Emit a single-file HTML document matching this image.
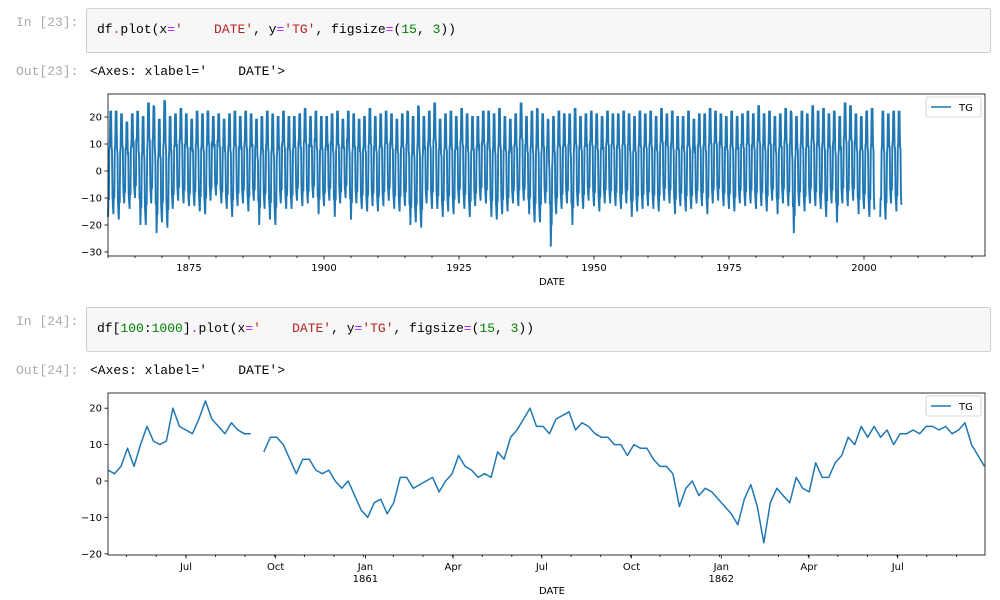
<!DOCTYPE html>
<html><head><meta charset="utf-8">
<style>
body{margin:0;width:1000px;height:600px;background:#fff;overflow:hidden;position:relative;font-family:"Liberation Sans",sans-serif}
.prompt{position:absolute;font-family:"Liberation Mono",monospace;font-size:13px;color:#aaa}
.cell{position:absolute;left:86px;width:903px;height:43px;background:#f7f7f7;border:1px solid #cfcfcf;border-radius:2px}
.code{position:absolute;left:10px;top:13px;font-family:"Liberation Mono",monospace;font-size:13px;color:#000;white-space:pre}
.out{position:absolute;left:90px;font-family:"Liberation Mono",monospace;font-size:13px;white-space:pre;color:#000}
.s{color:#ba2121}.o{color:#aa22ff}.n{color:#008000}
svg{position:absolute;left:0;top:0}
svg text{font-family:"DejaVu Sans",sans-serif;font-size:10px;fill:#000}
</style></head><body>
<div class="prompt" style="left:16px;top:15px">In [23]:</div>
<div class="cell" style="top:8px"><div class="code">df<span class="o">.</span>plot(x<span class="o">=</span><span class="s">'    DATE'</span>, y<span class="o">=</span><span class="s">'TG'</span>, figsize<span class="o">=</span>(<span class="n">15</span>, <span class="n">3</span>))</div></div>
<div class="prompt" style="left:16px;top:64px">Out[23]:</div>
<div class="out" style="top:64px">&lt;Axes: xlabel='    DATE'&gt;</div>

<div class="prompt" style="left:16px;top:314px">In [24]:</div>
<div class="cell" style="top:307px"><div class="code">df[<span class="n">100</span>:<span class="n">1000</span>]<span class="o">.</span>plot(x<span class="o">=</span><span class="s">'    DATE'</span>, y<span class="o">=</span><span class="s">'TG'</span>, figsize<span class="o">=</span>(<span class="n">15</span>, <span class="n">3</span>))</div></div>
<div class="prompt" style="left:16px;top:363px">Out[24]:</div>
<div class="out" style="top:363px">&lt;Axes: xlabel='    DATE'&gt;</div>

<svg id="chart" width="1000" height="600"></svg>
<script>
// ---- chart 1 data (yearly summer peaks / winter troughs, 1860-2006) ----
const years1Start = 1860;
const peaks = [22,22,21,18,21,22,20,25,24,19,26,20,21,23,21,19,22,21,22,20,21,19,21,22,20,22,21,19,20,22,21,20,22,20,20,21,23,20,22,20,20,21,22,19,22,21,19,20,23,20,21,22,21,19,21,22,20,24,20,22,25,19,21,22,20,23,21,20,20,22,22,21,23,20,19,21,25,20,22,23,21,19,20,22,21,21,23,20,21,22,21,20,22,21,21,22,21,20,22,21,22,20,23,21,22,20,20,22,19,21,21,23,22,21,20,22,20,21,22,21,24,21,22,20,21,23,22,20,22,21,24,22,23,21,22,20,25,24,21,20,22,23,null,22,21,22,22];
const troughs = [-17,-16,-18,-12,-14,-10,-20,-20,-12,-23,-19,-21,-14,-11,-12,-13,-13,-15,-16,-11,-9,-12,-14,-17,-13,-12,-15,-11,-20,-14,-18,-20,-12,-14,-14,-11,-13,-12,-10,-16,-13,-11,-17,-12,-10,-18,-12,-14,-15,-13,-15,-13,-11,-14,-15,-13,-20,-19,-21,-12,-14,-14,-17,-15,-16,-12,-14,-17,-13,-11,-12,-17,-18,-16,-15,-12,-13,-11,-16,-19,-19,-12,-28,-16,-14,-12,-20,-13,-14,-11,-13,-15,-12,-12,-13,-14,-12,-17,-15,-14,-13,-14,-15,-11,-12,-16,-13,-15,-14,-12,-13,-16,-12,-11,-13,-14,-15,-12,-13,-12,-14,-13,-15,-11,-16,-12,-13,-23,-13,-15,-12,-13,-14,-17,-12,-19,-12,-13,-11,-16,-14,-17,null,-17,-18,-12,-15];
const xTicks1 = [1875,1900,1925,1950,1975,2000];
const yTicks1 = [20,10,0,-10,-20,-30];
// ---- chart 2 data (weekly TG, Apr 1860 - Sep 1862) ----
const tg2 = [3,2,4,9,4,10,15,11,10,11,20,15,14,13,17,22,17,15,13,16,14,13,13,null,8,12,12,10,6,2,6,6,3,2,3,0,-2,0,-4,-8,-10,-6,-5,-9,-6,1,1,-2,-1,0,1,-3,0,2,7,4,3,1,2,1,8,6,12,14,17,20,15,
 15,13,17,18,19,14,16,15,13,12,12,10,10,7,10,9,9,6,4,4,2,-7,-2,0,-4,-2,-3,-5,-7,-9,-12,-5,-1,-7,-17,-6,-2,-4,-6,1,-2,-3,5,1,1,5,7,12,10,15,12,15,12,14,10,13,13,14,13,15,15,14,15,13,14,16,10,7,4];
const xTickLabels2 = ["Jul","Oct","Jan","Apr","Jul","Oct","Jan","Apr","Jul"];
const xTickDays2 = [80,172,264,354,445,537,629,719,810];
const yTicks2 = [20,10,0,-10,-20];

const NS="http://www.w3.org/2000/svg";
const svg=document.getElementById('chart');
function mk(tag,attrs,parent){const e=document.createElementNS(NS,tag);for(const k in attrs)e.setAttribute(k,attrs[k]);(parent||svg).appendChild(e);return e;}
function grp(name){const g=mk('g',{});return g;}

// chart 1
const L=108,R=985;
const T1=94,B1=256;
const x1=y=>L+(y-1860)*5.4;
const y1=v=>171-v*2.7;
const g1=grp('chart-1-full-series');
const wig=[0,5,-4,6,-3,4,-5,3,-4,5,-3,0];
let d='',pen=false;
for(let i=0;i<peaks.length;i++){
  const yr=years1Start+i;
  if(troughs[i]===null||peaks[i]===null){pen=false;continue;}
  const lo=troughs[i],hi=peaks[i];
  const nxt=(i+1<troughs.length&&troughs[i+1]!==null)?troughs[i+1]:lo;
  const n=wig.length;
  for(let k=0;k<n;k++){
    const f=k/n;
    const season=(1-Math.cos(2*Math.PI*f))/2;
    const b=(f<0.5?lo:nxt);
    const base=b+(hi-b)*season;
    const v=k===0?lo:(k===n/2?hi:Math.max(lo,Math.min(hi,base+wig[k]*0.9)));
    d+=(pen?'L':'M')+x1(yr+f).toFixed(1)+' '+y1(v).toFixed(1);
    pen=true;
  }
}
const line1=mk('path',{d:d,fill:'none',stroke:'#1f77b4','stroke-width':1.9},g1);


mk('rect',{x:L,y:T1,width:R-L,height:B1-T1,fill:'none',stroke:'#000','stroke-width':0.8},g1);
yTicks1.forEach(v=>{const y=y1(v);mk('line',{x1:L-3.5,x2:L,y1:y,y2:y,stroke:'#000','stroke-width':0.8},g1);
 const t=mk('text',{x:L-6,y:y+3.5,'text-anchor':'end'},g1);t.textContent=v<0?'\u2212'+(-v):v;
 
 });
for(let yr=1860;yr<=2020;yr+=5){const x=x1(yr);mk('line',{x1:x,x2:x,y1:B1,y2:B1+(yr%25===0?3.5:2),stroke:'#000','stroke-width':0.8},g1);}
xTicks1.forEach(yr=>{const t=mk('text',{x:x1(yr),y:B1+15,'text-anchor':'middle'},g1);t.textContent=yr;
 
 });
const xl1=mk('text',{x:552,y:285,'text-anchor':'middle'},g1);xl1.textContent='DATE';



function legend(g,x,y){
  const lg=mk('g',{},g);
  
  
  mk('rect',{x:x,y:y,width:55,height:20,rx:2,fill:'#fff','fill-opacity':0.8,stroke:'#ccc','stroke-width':0.8},lg);
  mk('line',{x1:x+5,x2:x+25,y1:y+10,y2:y+10,stroke:'#1f77b4','stroke-width':1.5},lg);
  const t=mk('text',{x:x+33,y:y+14},lg);t.textContent='TG';
}
legend(g1,926,97);

// chart 2
const T2=393,B2=555;
const x2=dd=>L+dd*0.975;
const y2=v=>481-v*3.64;
const step=899/(tg2.length-1);
const g2=grp('chart-2-subset-series');
d='';pen=false;
tg2.forEach((v,i)=>{if(v===null){pen=false;return;}d+=(pen?'L':'M')+x2(i*step).toFixed(1)+' '+y2(v).toFixed(1);pen=true;});
const line2=mk('path',{d:d,fill:'none',stroke:'#1f77b4','stroke-width':1.5,'stroke-linejoin':'round'},g2);


mk('rect',{x:L,y:T2,width:R-L,height:B2-T2,fill:'none',stroke:'#000','stroke-width':0.8},g2);
yTicks2.forEach(v=>{const y=y2(v);mk('line',{x1:L-3.5,x2:L,y1:y,y2:y,stroke:'#000','stroke-width':0.8},g2);
 const t=mk('text',{x:L-6,y:y+3.5,'text-anchor':'end'},g2);t.textContent=v<0?'\u2212'+(-v):v;
 
 });
for(let m=0;m<30;m++){const x=x2(19+m*30.4);if(x<=R)mk('line',{x1:x,x2:x,y1:B2,y2:B2+2,stroke:'#000','stroke-width':0.8},g2);}
xTickLabels2.forEach((lab,i)=>{const x=x2(xTickDays2[i]);
 mk('line',{x1:x,x2:x,y1:B2,y2:B2+3.5,stroke:'#000','stroke-width':0.8},g2);
 const t=mk('text',{x:x,y:B2+15,'text-anchor':'middle'},g2);t.textContent=lab;
 
 
 if(lab==='Jan'){const yt=mk('text',{x:x,y:B2+27,'text-anchor':'middle'},g2);yt.textContent=i<4?'1861':'1862';}});
const xl2=mk('text',{x:552,y:594,'text-anchor':'middle'},g2);xl2.textContent='DATE';


legend(g2,926,396);
</script>
</body></html>
